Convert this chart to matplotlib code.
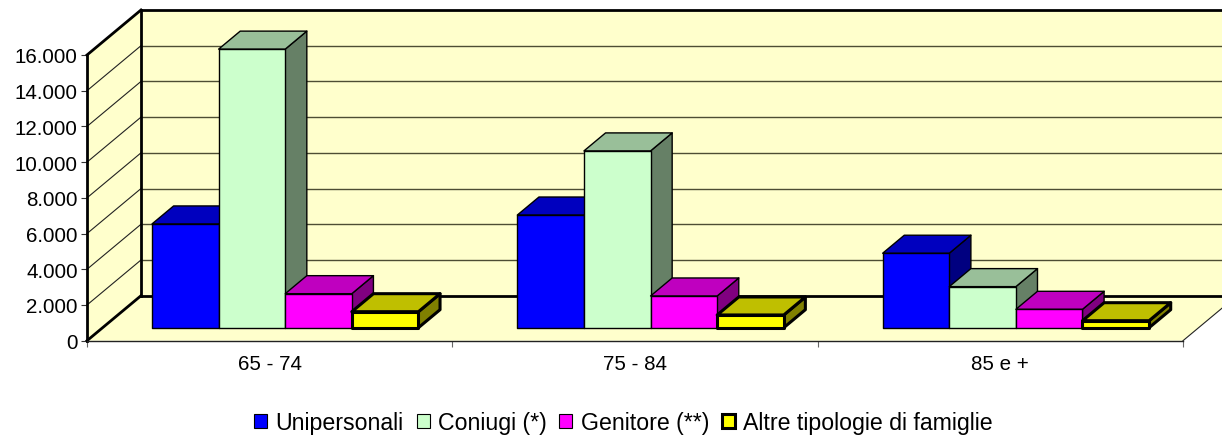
import matplotlib
matplotlib.use('Agg')
import matplotlib.pyplot as plt
from matplotlib.patches import Polygon, Patch
from matplotlib.transforms import ScaledTranslation

plt.rcParams['font.family'] = ['Liberation Sans', 'DejaVu Sans']

# dati
categorie = ['65 - 74', '75 - 84', '85 e +']
serie = ['Unipersonali', 'Coniugi (*)', 'Genitore (**)', 'Altre tipologie di famiglie']
unipersonali = [5810, 6310, 4170]
coniugi = [15600, 9900, 2300]
genitore = [1905, 1776, 1030]
altre = [896, 712, 392]
valori_y = [0, 2000, 4000, 6000, 8000, 10000, 12000, 14000, 16000]

fronte = ['#0000FF', '#CCFFCC', '#FF00FF', '#FFFF00']
sopra = ['#0000BF', '#99BF99', '#BF00BF', '#BFBF00']
lato = ['#000080', '#668066', '#800080', '#808000']
bordo = [1.0, 1.0, 1.0, 2.2]
sfondo = '#FFFFCC'

W, H = 1222, 436
fig = plt.figure(figsize=(W / 100, H / 100), dpi=100)
ax = fig.add_axes([87 / W, 1 - 340.7 / H, (1183 - 87) / W, (340.7 - 55) / H])
ax.set_xlim(0, 3)
ax.set_ylim(0, 16000)

# profondita' della scena 3D in unita' dei dati
dx = 54 / 365.3
dy = 45 / 35.7 * 2000
larg = 66.6 / 365.3
gap = 49.4 / 365.3
d_fronte = 0.289
d_retro = 0.689
base = 0


def pt(x, y, d=0.0):
    return (x + dx * d, y + dy * d)


def poly(punti, **kw):
    ax.add_patch(Polygon(punti, closed=True, clip_on=False, **kw))


# pareti e pavimento
poly([pt(0, 0, 1), pt(3, 0, 1), pt(3, 16000, 1), pt(0, 16000, 1)], fc=sfondo, ec='none', zorder=1)
poly([pt(0, 0), pt(0, 0, 1), pt(0, 16000, 1), pt(0, 16000)], fc=sfondo, ec='none', zorder=1)
poly([pt(0, 0), pt(3, 0), pt(3, 0, 1), pt(0, 0, 1)], fc=sfondo, ec='none', zorder=1)

for v in valori_y[1:-1]:
    ax.plot(*zip(pt(0, v, 1), pt(3, v, 1)), color='#4d4d33', lw=1.0, clip_on=False, zorder=2)
    ax.plot(*zip(pt(0, v), pt(0, v, 1)), color='#222222', lw=0.8, clip_on=False, zorder=2)

linee_spesse = [
    (pt(0, 0), pt(0, 0, 1)),
    (pt(0, 16000), pt(0, 16000, 1)),
    (pt(0, 0, 1), pt(0, 16000, 1)),
    (pt(0, 16000, 1), pt(3, 16000, 1)),
    (pt(0, 0, 1), pt(3, 0, 1)),
]
for a, b in linee_spesse:
    ax.plot(*zip(a, b), color='black', lw=2.0, clip_on=False, zorder=3, solid_capstyle='projecting')
ax.plot(*zip(pt(3, 0), pt(3, 0, 1)), color='#222222', lw=0.8, clip_on=False, zorder=3)

# barre
dati = [unipersonali, coniugi, genitore, altre]
z = 4
for c in range(len(categorie)):
    for s, valori in enumerate(dati):
        v = valori[c]
        x0 = c + gap + s * larg
        x1 = x0 + larg
        st = dict(ec='black', lw=bordo[s], joinstyle='round')
        poly([pt(x1, base, d_fronte), pt(x1, base, d_retro), pt(x1, v, d_retro), pt(x1, v, d_fronte)],
             fc=lato[s], zorder=z, **st)
        poly([pt(x0, v, d_fronte), pt(x1, v, d_fronte), pt(x1, v, d_retro), pt(x0, v, d_retro)],
             fc=sopra[s], zorder=z, **st)
        poly([pt(x0, base, d_fronte), pt(x1, base, d_fronte), pt(x1, v, d_fronte), pt(x0, v, d_fronte)],
             fc=fronte[s], zorder=z, **st)
        z += 1

# assi
ax.patch.set_visible(False)
for nome in ['top', 'right']:
    ax.spines[nome].set_visible(False)
ax.spines['left'].set_linewidth(2.0)
ax.spines['bottom'].set_linewidth(1.0)
ax.spines['bottom'].set_color('#222222')
ax.spines['left'].set_zorder(3)
ax.spines['bottom'].set_zorder(3)

ax.set_yticks(valori_y)
ax.set_yticklabels([f'{v:,}'.replace(',', '.') for v in valori_y], fontsize=14.8)
ax.tick_params(axis='y', length=4.2, width=0.8, pad=2.5, color='#333333')
for lab in ax.get_yticklabels():
    lab.set_transform(lab.get_transform() + ScaledTranslation(0, -1 / 100, fig.dpi_scale_trans))
ax.set_xticks([0, 1, 2, 3])
ax.set_xticklabels([])
ax.tick_params(axis='x', which='major', length=4.2, width=0.8, color='#666666')
ax.set_xticks([0.5, 1.5, 2.5], minor=True)
ax.set_xticklabels(categorie, minor=True, fontsize=14.8)
ax.tick_params(axis='x', which='minor', length=0, pad=10.5)

maniglie = [Patch(fc=fronte[i], ec='black', lw=bordo[i] if i == 3 else 0.8) for i in range(4)]
fig.legend(maniglie, serie, ncol=4, frameon=False, fontsize=16.7,
           loc='center', bbox_to_anchor=(623.5 / W, 1 - 423 / H),
           handlelength=0.56, handleheight=0.56, handletextpad=0.35,
           columnspacing=0.56, borderpad=0, borderaxespad=0)

fig.savefig('out.png', dpi=100)
